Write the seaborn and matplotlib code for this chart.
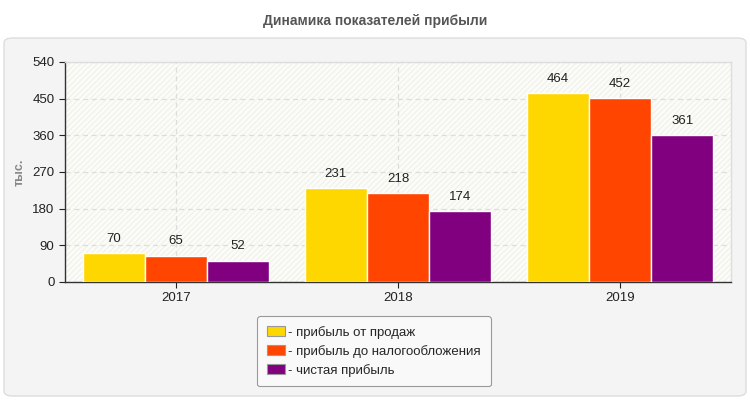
import numpy as np
import pandas as pd
import matplotlib
matplotlib.use('Agg')
import matplotlib.pyplot as plt
import seaborn as sns
from matplotlib.patches import FancyBboxPatch, Rectangle

# -------------------------------------------------
# data
# -------------------------------------------------

YEARS = ['2017', '2018', '2019']

SERIES = [
    'прибыль от продаж',
    'прибыль до налогообложения',
    'чистая прибыль'
]

SALES_PROFIT = [70, 231, 464]
PRETAX_PROFIT = [65, 218, 452]
NET_PROFIT = [52, 174, 361]

COLORS = ['#ffd700', '#ff4500', '#800080']

Y_TICKS = [0, 90, 180, 270, 360, 450, 540]

TITLE = 'Динамика показателей прибыли'
Y_LABEL = 'тыс.'

# -------------------------------------------------
# table
# -------------------------------------------------

df = pd.DataFrame({
    'year': YEARS * 3,
    'series': [SERIES[0]] * 3 + [SERIES[1]] * 3 + [SERIES[2]] * 3,
    'value': SALES_PROFIT + PRETAX_PROFIT + NET_PROFIT
})

sns.set_style('white')
plt.rcParams['font.family'] = ['Liberation Sans', 'DejaVu Sans']
plt.rcParams['hatch.linewidth'] = 0.6

fig = plt.figure(figsize=(7.5, 4), dpi=100)
fig.patch.set_facecolor('white')

# outer panel
panel = FancyBboxPatch(
    (4 / 750, 4 / 400), 742 / 750, 358 / 400,
    boxstyle='round,pad=0,rounding_size=0.012',
    transform=fig.transFigure,
    facecolor='#f4f4f4',
    edgecolor='#dddddd',
    linewidth=1,
    zorder=-10
)
fig.patches.append(panel)

fig.text(0.5, 0.948, TITLE, ha='center', va='center',
         fontsize=10, fontweight='bold', color='#555555')

ax = fig.add_axes([65 / 750, 118 / 400, 666 / 750, 220 / 400])
ax.set_facecolor('#fbfbf7')

# hatched background
ax.add_patch(Rectangle(
    (0, 0), 1, 1,
    transform=ax.transAxes,
    facecolor='#fbfbf7',
    edgecolor='#eeeee8',
    hatch='//////',
    linewidth=0,
    zorder=0
))

sns.barplot(
    data=df,
    x='year',
    y='value',
    hue='series',
    palette=COLORS,
    width=0.84,
    edgecolor='white',
    linewidth=1,
    saturation=1,
    ax=ax,
    zorder=3
)

for container in ax.containers:
    ax.bar_label(container, padding=6, fontsize=9.5, color='#222222')

ax.set_ylim(0, 540)
ax.set_xlim(-0.5, 2.5)
ax.set_yticks(Y_TICKS)
ax.set_xlabel('')
ax.set_ylabel(Y_LABEL, fontsize=9, fontweight='bold', color='#888888',
              labelpad=5)

ax.grid(True, linestyle=(0, (4, 3)), color='#dddddd', linewidth=0.9)
ax.set_axisbelow(True)

ax.tick_params(axis='both', labelsize=9.5, colors='#222222',
               length=4, width=0.8, direction='out',
               left=True, bottom=True)
ax.tick_params(axis='x', pad=3)

for side in ['top', 'right']:
    ax.spines[side].set_color('#dddddd')
    ax.spines[side].set_linewidth(1)
for side in ['left', 'bottom']:
    ax.spines[side].set_color('#333333')
    ax.spines[side].set_linewidth(1)

# legend
handles, labels = ax.get_legend_handles_labels()
for h in handles:
    h.set_edgecolor('#999999')
    h.set_linewidth(0.8)
leg = ax.legend(
    handles,
    ['- ' + s for s in SERIES],
    loc='upper left',
    bbox_to_anchor=(257 / 750, 1 - 316 / 400),
    bbox_transform=fig.transFigure,
    fontsize=9.5,
    frameon=True,
    fancybox=True,
    edgecolor='#999999',
    facecolor='#f9f9f9',
    framealpha=1,
    handlelength=1.4,
    handleheight=0.75,
    handletextpad=0.2,
    labelspacing=0.45,
    borderpad=0.75,
    borderaxespad=0
)
leg.get_frame().set_linewidth(0.8)

fig.savefig('out.png', dpi=100, facecolor='white')
